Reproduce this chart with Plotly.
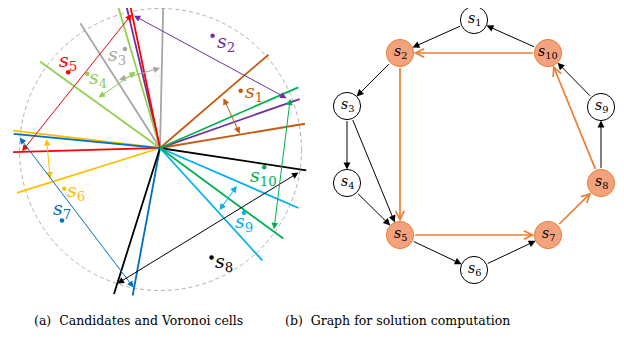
import numpy as np
import plotly.graph_objects as go

# ---------------- data ----------------
cands = ["1", "2", "3", "4", "5", "6", "7", "8", "9", "10"]
colors = ["#c55a11", "#7030a0", "#a6a6a6", "#92d050", "#ff0000",
          "#ffc000", "#0070c0", "#000000", "#00b0f0", "#00b050"]
# Voronoi cell boundary rays (degrees, length in px)
ray_a = [40.7, 103.3, 88.7, 106.5, 101.8, 173.3, 174.5, -8.7, -23.4, 23.7]
ray_b = [9.5, 19.3, 122.6, 144.2, 181.6, 197.4, 259.5, 252.5, -47.7, -36.3]
len_a = [143, 147, 145, 147, 146, 148, 147, 148, 151, 151]
len_b = [147, 148, 148, 148, 147, 150, 150, 153, 152, 153]
# double arrows spanning each cell
arr_a = [39.2, 101.7, 122.0, 141.9, 101.3, 174.7, 175.2, -9.6, -25.1, 21.3]
arr_b = [10.2, 21.5, 90.0, 107.7, 181.4, 195.5, 259.3, 252.6, -46.2, -35.5]
arr_r = [81, 136, 80, 80, 138, 114, 142, 142, 86, 140]
# candidate locations (polar)
cand_ang = [35.4, 64.9, 109.5, 134.5, 140.5, 203.0, 216.5, -64.8, -37.6, -10.5]
cand_rad = [99, 124, 105, 104, 119, 104, 122, 121, 106, 106]

# graph
node_x = [474, 400, 347, 347, 400, 474, 548, 601, 601, 548]
node_y = [20, 53, 106, 183, 235, 270, 235, 183, 107, 53]
on_path = [False, True, False, False, True, False, True, True, False, True]
black_edges = [(1, 2), (10, 1), (2, 3), (3, 4), (3, 5), (4, 5), (5, 6), (6, 7), (8, 9), (9, 10)]
orange_edges = [(10, 2), (2, 5), (5, 7), (7, 8), (8, 10)]

captions = ["(a)  Candidates and Voronoi cells", "(b)  Graph for solution computation"]

# ---------------- layout helpers ----------------
CX, CY = 160.0, 148.0
CIRC = (160.5, 149.5, 141.0)
NODE_R = 13.6
SERIF = "DejaVu Serif"
PAGE_OFF = 8  # default body margin of the html page

def pt(a, r):
    t = np.deg2rad(a)
    return CX + r * np.cos(t), CY - r * np.sin(t)

fig = go.Figure()
annos = []

# dashed circle
fig.add_shape(type="circle", xref="x", yref="y",
              x0=CIRC[0] - CIRC[2], x1=CIRC[0] + CIRC[2],
              y0=CIRC[1] - CIRC[2], y1=CIRC[1] + CIRC[2],
              line=dict(color="#b0b0b0", width=1, dash="4px,3px"), layer="below")

# rays
for i, c in enumerate(cands):
    xa, ya = pt(ray_a[i], len_a[i])
    xb, yb = pt(ray_b[i], len_b[i])
    fig.add_trace(go.Scatter(x=[xa, CX, xb], y=[ya, CY, yb], mode="lines",
                             line=dict(color=colors[i], width=1.8),
                             hoverinfo="skip", showlegend=False))

# candidate points
px_, py_ = zip(*[pt(a, r) for a, r in zip(cand_ang, cand_rad)])
fig.add_trace(go.Scatter(x=list(px_), y=list(py_), mode="markers",
                         marker=dict(color=colors, size=4.5),
                         hoverinfo="skip", showlegend=False))

label_off = [(13, 2), (13, 7), (-8, 6), (11, 5), (0, -11),
             (12, 3), (0, -11), (12, 5), (0, 10), (-1, 9)]
for i, c in enumerate(cands):
    x, y = px_[i], py_[i]
    dx, dy = label_off[i]
    annos.append(dict(x=x, y=y, xref="x", yref="y", showarrow=False,
                      text=f"<i>s</i><sub>{c}</sub>", xshift=dx, yshift=-dy,
                      font=dict(family=SERIF, size=19, color=colors[i])))
    # double arrows
    x0, y0 = pt(arr_a[i], arr_r[i])
    x1, y1 = pt(arr_b[i], arr_r[i])
    annos.append(dict(x=x1, y=y1, ax=x0, ay=y0, xref="x", yref="y",
                      axref="x", ayref="y", text="", showarrow=True,
                      arrowhead=2, startarrowhead=2, arrowside="end+start",
                      arrowsize=1.3, startarrowsize=1.3, arrowwidth=1,
                      arrowcolor=colors[i]))

# graph edges
for (s, d) in black_edges:
    annos.append(dict(x=node_x[d - 1], y=node_y[d - 1], ax=node_x[s - 1], ay=node_y[s - 1],
                      xref="x", yref="y", axref="x", ayref="y", text="", showarrow=True,
                      arrowhead=2, arrowsize=1.4, arrowwidth=1, arrowcolor="#000000",
                      standoff=NODE_R, startstandoff=NODE_R))
for (s, d) in orange_edges:
    annos.append(dict(x=node_x[d - 1], y=node_y[d - 1], ax=node_x[s - 1], ay=node_y[s - 1],
                      xref="x", yref="y", axref="x", ayref="y", text="", showarrow=True,
                      arrowhead=5, arrowsize=1.0, arrowwidth=1.7, arrowcolor="#ed7d31",
                      standoff=NODE_R, startstandoff=NODE_R))

# nodes
fig.add_trace(go.Scatter(
    x=node_x, y=node_y, mode="markers",
    marker=dict(size=2 * NODE_R,
                color=["#f4a27e" if p else "#ffffff" for p in on_path],
                line=dict(color=["#ed7d31" if p else "#000000" for p in on_path], width=1)),
    hoverinfo="skip", showlegend=False))
for i, c in enumerate(cands):
    annos.append(dict(x=node_x[i], y=node_y[i], xref="x", yref="y", showarrow=False,
                      text=f"<i>s</i><sub>{c}</sub>", yshift=1,
                      font=dict(family=SERIF, size=14, color="#000000")))

# captions
for x0, t in zip([32, 283], captions):
    annos.append(dict(x=x0, y=320, xref="x", yref="y", xanchor="left", showarrow=False,
                      text=t, font=dict(family=SERIF, size=12.5, color="#000000")))

W, H = 624 - 2 * PAGE_OFF, 339 - 2 * PAGE_OFF
fig.update_layout(
    width=W, height=H, margin=dict(l=0, r=0, t=0, b=0),
    paper_bgcolor="white", plot_bgcolor="white",
    xaxis=dict(range=[PAGE_OFF, PAGE_OFF + W], visible=False, fixedrange=True),
    yaxis=dict(range=[PAGE_OFF + H, PAGE_OFF], visible=False, fixedrange=True),
    annotations=annos, showlegend=False,
)
fig.write_html("out.html")
